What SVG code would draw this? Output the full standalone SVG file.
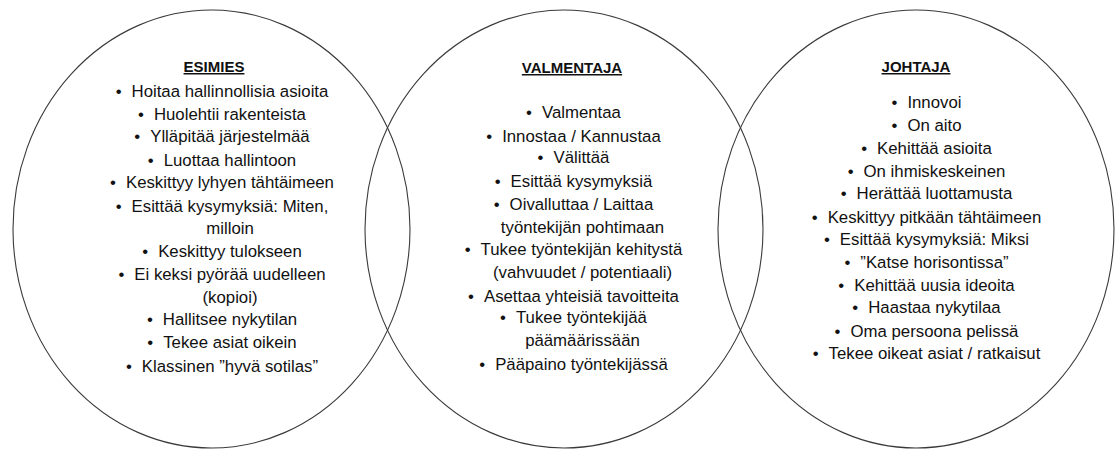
<svg xmlns="http://www.w3.org/2000/svg" width="1115" height="450" viewBox="0 0 1115 450">
  <style>
    .ring { fill: none; stroke: #3a3a3a; stroke-width: 1.1; }
    .title { font-family: "Liberation Sans", Arial, sans-serif; font-size: 15px; font-weight: bold; fill: #111; text-anchor: middle; text-decoration: underline; }
    .item { font-family: "Liberation Sans", Arial, sans-serif; font-size: 16.8px; fill: #111; text-anchor: middle; }
  </style>
  <rect width="1115" height="450" fill="#fff"/>

  <!-- Supervisor -->
  <g id="esimies">
    <ellipse class="ring" cx="211.5" cy="229" rx="198.5" ry="219"/>
    <text class="title" x="214" y="72">ESIMIES</text>
    <text class="item" x="222" y="97">•<tspan dx="10">Hoitaa hallinnollisia asioita</tspan></text>
    <text class="item" x="222" y="120">•<tspan dx="10">Huolehtii rakenteista</tspan></text>
    <text class="item" x="222" y="142">•<tspan dx="10">Ylläpitää järjestelmää</tspan></text>
    <text class="item" x="222" y="166">•<tspan dx="10">Luottaa hallintoon</tspan></text>
    <text class="item" x="222" y="188">•<tspan dx="10">Keskittyy lyhyen tähtäimeen</tspan></text>
    <text class="item" x="222" y="212">•<tspan dx="10">Esittää kysymyksiä: Miten,</tspan></text>
    <text class="item" x="230" y="234">milloin</text>
    <text class="item" x="222" y="257">•<tspan dx="10">Keskittyy tulokseen</tspan></text>
    <text class="item" x="222" y="280">•<tspan dx="10">Ei keksi pyörää uudelleen</tspan></text>
    <text class="item" x="230" y="303">(kopioi)</text>
    <text class="item" x="222" y="325">•<tspan dx="10">Hallitsee nykytilan</tspan></text>
    <text class="item" x="222" y="348">•<tspan dx="10">Tekee asiat oikein</tspan></text>
    <text class="item" x="222" y="372">•<tspan dx="10">Klassinen ”hyvä sotilas”</tspan></text>
  </g>

  <!-- Coach -->
  <g id="valmentaja">
    <ellipse class="ring" cx="564" cy="229" rx="199" ry="219"/>
    <text class="title" x="572" y="73">VALMENTAJA</text>
    <text class="item" x="573.5" y="118">•<tspan dx="10">Valmentaa</tspan></text>
    <text class="item" x="573.5" y="142">•<tspan dx="10">Innostaa / Kannustaa</tspan></text>
    <text class="item" x="573.5" y="163">•<tspan dx="10">Välittää</tspan></text>
    <text class="item" x="573.5" y="187">•<tspan dx="10">Esittää kysymyksiä</tspan></text>
    <text class="item" x="573.5" y="210">•<tspan dx="10">Oivalluttaa / Laittaa</tspan></text>
    <text class="item" x="582.5" y="233">työntekijän pohtimaan</text>
    <text class="item" x="573.5" y="255">•<tspan dx="10">Tukee työntekijän kehitystä</tspan></text>
    <text class="item" x="582.5" y="278">(vahvuudet / potentiaali)</text>
    <text class="item" x="573.5" y="302">•<tspan dx="10">Asettaa yhteisiä tavoitteita</tspan></text>
    <text class="item" x="573.5" y="323">•<tspan dx="10">Tukee työntekijää</tspan></text>
    <text class="item" x="582.5" y="346">päämäärissään</text>
    <text class="item" x="573.5" y="370">•<tspan dx="10">Pääpaino työntekijässä</tspan></text>
  </g>

  <!-- Leader -->
  <g id="johtaja">
    <ellipse class="ring" cx="916" cy="229" rx="198" ry="219"/>
    <text class="title" x="916" y="72">JOHTAJA</text>
    <text class="item" x="926.5" y="108">•<tspan dx="10">Innovoi</tspan></text>
    <text class="item" x="926.5" y="131">•<tspan dx="10">On aito</tspan></text>
    <text class="item" x="926.5" y="154">•<tspan dx="10">Kehittää asioita</tspan></text>
    <text class="item" x="926.5" y="177">•<tspan dx="10">On ihmiskeskeinen</tspan></text>
    <text class="item" x="926.5" y="199">•<tspan dx="10">Herättää luottamusta</tspan></text>
    <text class="item" x="926.5" y="223">•<tspan dx="10">Keskittyy pitkään tähtäimeen</tspan></text>
    <text class="item" x="926.5" y="245">•<tspan dx="10">Esittää kysymyksiä: Miksi</tspan></text>
    <text class="item" x="926.5" y="268">•<tspan dx="10">”Katse horisontissa”</tspan></text>
    <text class="item" x="926.5" y="291">•<tspan dx="10">Kehittää uusia ideoita</tspan></text>
    <text class="item" x="926.5" y="313">•<tspan dx="10">Haastaa nykytilaa</tspan></text>
    <text class="item" x="926.5" y="337">•<tspan dx="10">Oma persoona pelissä</tspan></text>
    <text class="item" x="926.5" y="359">•<tspan dx="10">Tekee oikeat asiat / ratkaisut</tspan></text>
  </g>

  <!-- no connectors between the sets; the overlaps carry the relation -->
  <g id="connectors"/>
</svg>
